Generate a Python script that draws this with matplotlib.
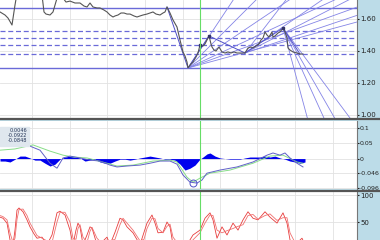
import matplotlib
matplotlib.use("Agg")
import matplotlib.pyplot as plt
from matplotlib.lines import Line2D

# ---- price panel data (x = chart position) ----
price_x = [0, 5, 8, 12, 15, 17, 25, 35, 42, 44, 46, 50, 53, 57, 62, 66, 70, 75, 80, 84,
           87, 90, 93, 97, 100, 104, 107, 110, 113, 115, 118, 121, 124, 127, 130, 134, 137,
           140, 143, 147, 150, 153, 156, 160, 163, 165, 167, 170, 173, 177, 180, 183, 185,
           187, 188, 191, 193, 196, 198, 200, 203, 205, 207, 209, 211, 212, 214, 216, 219,
           222, 225, 228, 231, 234, 237, 240, 243, 245, 248, 251, 253, 256, 259, 261, 263,
           265, 267, 269, 272, 273, 275, 278, 280, 283, 285, 287, 288, 290, 293, 297, 300, 303]
price = [1.644, 1.625, 1.606, 1.5625, 1.6875, 1.76, 1.79, 1.78, 1.75, 1.644, 1.631, 1.625,
         1.644, 1.73, 1.74, 1.706, 1.712, 1.70, 1.70, 1.681, 1.675, 1.70, 1.675, 1.669, 1.669,
         1.656, 1.644, 1.625, 1.6125, 1.619, 1.625, 1.6375, 1.6375, 1.631, 1.631, 1.619, 1.6125,
         1.619, 1.625, 1.631, 1.6375, 1.644, 1.631, 1.625, 1.6375, 1.644, 1.675, 1.6375, 1.594,
         1.55, 1.469, 1.394, 1.369, 1.331, 1.294, 1.319, 1.331, 1.3625, 1.3875, 1.4375, 1.431,
         1.444, 1.469, 1.494, 1.444, 1.425, 1.406, 1.40, 1.425, 1.394, 1.3875, 1.394, 1.3875,
         1.394, 1.3875, 1.3875, 1.3875, 1.3875, 1.419, 1.425, 1.419, 1.431, 1.444, 1.469, 1.481,
         1.519, 1.50, 1.4875, 1.519, 1.4875, 1.494, 1.5125, 1.519, 1.544, 1.519, 1.481, 1.419,
         1.406, 1.394, 1.3875, 1.381, 1.381]

zz_x = [167, 188, 209, 245, 283, 300]
zz_p = [1.675, 1.294, 1.494, 1.3875, 1.544, 1.381]
pivot_x = [200, 209, 283]
pivot_p = [1.4375, 1.494, 1.544]

fib_solid = [1.669, 1.294]
fib_dashed = [1.3825, 1.4375, 1.4815, 1.526]

# gann fans: origin and slopes (price per position unit)
fan_a = (188, 1.294, [0.0094, 0.00625, 0.0042, 0.0029, 0.00225, 0.0017])
fan_b = (245, 1.3875, [0.0081, 0.0043, 0.0032, 0.0021])
fan_c = (283, 1.544, [-0.0231, -0.01375, -0.0109, -0.0084])

# ---- MACD data ----
macd_x = [0, 15, 25, 30, 40, 50, 57, 63, 70, 80, 90, 100, 110, 117, 127, 140, 150, 160, 170,
          177, 183, 190, 197, 202, 207, 220, 237, 253, 267, 273, 280, 285, 290, 297, 303]
macd = [0.053, 0.060, 0.053, 0.040, 0.027, -0.015, -0.031, 0.002, 0.008, 0.002, -0.005,
        -0.008, -0.021, -0.027, -0.024, -0.021, -0.015, -0.008, -0.008, -0.018, -0.053,
        -0.076, -0.079, -0.069, -0.047, -0.037, -0.027, -0.011, 0.011, 0.018, 0.011, 0.018,
        0.002, -0.015, -0.027]
sig_x = [0, 15, 33, 50, 63, 73, 87, 107, 117, 133, 153, 170, 177, 187, 193, 200, 210, 230,
         253, 270, 283, 297, 303]
signal = [0.027, 0.031, 0.044, 0.024, 0.011, 0.005, 0.002, -0.015, -0.024, -0.021, -0.008,
          -0.005, -0.011, -0.060, -0.076, -0.063, -0.047, -0.037, -0.015, 0.008, 0.011,
          -0.011, -0.015]
hist_x = [0, 5, 10, 15, 20, 25, 30, 35, 40, 45, 50, 55, 60, 65, 70, 75, 80, 85, 90, 95, 100,
          105, 110, 115, 120, 125, 130, 135, 140, 145, 150, 155, 160, 165, 170, 175, 180, 185,
          190, 195, 200, 203, 207, 210, 215, 220, 230, 240, 245, 250, 260, 265, 270, 275, 280,
          285, 290, 295, 300, 305]
hist = [-0.008, -0.008, -0.011, -0.002, 0.008, 0.008, 0.002, -0.005, -0.005, -0.015, -0.024,
        -0.018, -0.002, 0.005, 0.008, 0.005, 0.002, -0.008, -0.005, -0.002, -0.011, -0.015,
        -0.015, -0.008, -0.002, -0.002, -0.005, -0.002, 0.002, 0.005, 0.008, 0.005, 0.002,
        -0.002, -0.002, -0.005, -0.018, -0.037, -0.031, -0.021, -0.002, 0.005, 0.015, 0.018,
        0.008, 0.002, -0.002, -0.002, 0.002, 0.005, 0.005, 0.008, 0.005, 0.008, 0.002, -0.002,
        -0.008, -0.011, -0.015, -0.011]
legend_vals = ["0.0046", "-0.0922", "-0.0848"]

# ---- stochastic data ----
stoch_x = [0, 3, 7, 10, 13, 15, 17, 19, 23, 27, 30, 34, 37, 42, 47, 52, 57, 60, 65, 70, 73,
           76, 78, 80, 83, 87, 90, 92, 97, 102, 107, 110, 115, 120, 123, 127, 133, 140, 144,
           147, 152, 155, 158, 163, 167, 170, 173, 180, 187, 193, 200, 205, 210, 213, 217, 222,
           227, 233, 238, 243, 248, 253, 258, 265, 270, 277, 283, 287, 290, 295, 302, 305]
stoch_k = [59, 57, 48, 17, 8, 35, 72, 76, 69, 54, 41, 28, 20, 22, 8, 26, 67, 70, 63, 35, 8,
           35, 48, 41, 8, 26, 41, 39, 8, 13, 22, 8, 31, 57, 54, 41, 30, 8, 31, 48, 63, 48, 30,
           31, 50, 41, 8, 2, 8, 26, 35, 57, 67, 54, 20, 41, 26, 48, 35, 54, 69, 57, 54, 69, 59,
           48, 67, 48, 17, 8, 20, 8]
stoch_d = [62, 60, 54, 30, 12, 20, 55, 73, 74, 62, 48, 35, 25, 20, 15, 12, 50, 68, 68, 50, 20,
           18, 38, 45, 22, 12, 33, 40, 20, 10, 17, 15, 18, 45, 57, 48, 35, 15, 18, 38, 57, 56,
           38, 30, 42, 46, 22, 5, 5, 17, 30, 48, 63, 62, 35, 30, 34, 38, 42, 45, 62, 64, 55, 62,
           65, 53, 58, 58, 30, 12, 14, 14]

grid_x = [32, 70, 107, 145, 183, 220, 257, 295, 333]
cursor_x = 200

W, H = 380, 240
fig = plt.figure(figsize=(3.8, 2.4), dpi=100, facecolor="#bcdce8")
pw = 357 / W

def panel(top, bottom):
    ax = fig.add_axes([0, (H - bottom) / H, pw, (bottom - top) / H])
    ax.set_facecolor("white")
    ax.set_xlim(0, 357)
    for s in ["top", "left", "bottom"]:
        ax.spines[s].set_visible(False)
    ax.spines["right"].set_color("#777777")
    ax.spines["right"].set_linewidth(0.8)
    ax.yaxis.tick_right()
    ax.tick_params(axis="y", labelsize=5, length=1.5, pad=1, colors="#222222")
    ax.set_xticks(grid_x)
    ax.tick_params(axis="x", length=0, labelbottom=False)
    ax.grid(True, color="#e2e2e2", lw=0.6)
    ax.set_axisbelow(True)
    ax.axvline(cursor_x, color="#66dd66", lw=0.8, zorder=6)
    return ax

# price panel
ax1 = panel(0, 118)
ax1.set_ylim(0.98125, 1.71875)
ax1.set_yticks([1.0, 1.2, 1.4, 1.6])
ax1.set_yticklabels(["1.00", "1.20", "1.40", "1.60"])
for lvl in fib_solid:
    ax1.axhline(lvl, color="#6a6ad8", lw=1.0)
for lvl in fib_dashed:
    ax1.axhline(lvl, color="#6a6ad8", lw=0.9, dashes=(4, 2.2))
for x0, p0, slopes in [fan_a, fan_b, fan_c]:
    for s in slopes:
        ax1.plot([x0, 400], [p0, p0 + s * (400 - x0)], color="#8484e6", lw=0.6)
ax1.plot(zz_x, zz_p, color="#5050c8", lw=0.7)
ax1.plot(price_x, price, color="#555555", lw=0.8)
ax1.plot(pivot_x, pivot_p, "s", color="#333366", ms=2, lw=0)

# MACD panel
ax2 = panel(121, 189)
ax2.set_ylim(-0.098, 0.121)
ax2.set_yticks([0.1, 0.05, 0, -0.046, -0.096])
ax2.set_yticklabels(["0.1", "0.05", "0", "-0.046", "-0.096"])
ax2.tick_params(axis="y", labelsize=4.5, pad=0.6)
ax2.fill_between(hist_x, hist, 0, color="#0000ee", lw=0)
ax2.plot(sig_x, signal, color="#88dd88", lw=0.7)
ax2.plot(macd_x, macd, color="#6060c8", lw=0.7)
ax2.plot([193], [-0.078], "o", mfc="none", mec="#5050c8", ms=5, mew=0.7)
box_x = [0, 29]
ax2.fill_between(box_x, 0.041, 0.101, color="#dfe7ee", zorder=7)
for i, t in enumerate(legend_vals):
    ax2.text(27, 0.092 - i * 0.0165, t, fontsize=3.6, ha="right", va="center",
             color="#223355", zorder=8)

# stochastic panel
ax3 = panel(192, 240)
ax3.set_ylim(16.7, 105.6)
ax3.set_yticks([100, 50])
ax3.set_yticklabels(["100", "50"])
ax3.plot(stoch_x, stoch_k, color="#e83c3c", lw=0.6)
ax3.plot(stoch_x, stoch_d, color="#f07070", lw=0.6)

# panel separators
for y in [119, 190.5]:
    fig.add_artist(Line2D([0, 1], [(H - y) / H] * 2, color="#555555", lw=1.6))

fig.savefig("out.png", dpi=100, facecolor=fig.get_facecolor())
